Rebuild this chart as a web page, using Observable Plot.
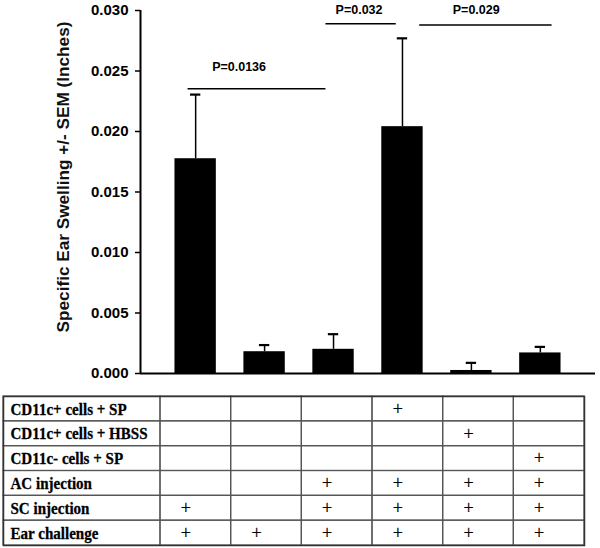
<!DOCTYPE html>
<html><head><meta charset="utf-8">
<script src="https://cdn.jsdelivr.net/npm/d3@7"></script>
<script src="https://cdn.jsdelivr.net/npm/@observablehq/plot@0.6"></script>
<style>
html,body{margin:0;padding:0;background:#fff;}
#chart svg{display:block}
</style></head><body><div id="chart"></div>
<script>
// ---- data ----
const groups = [1, 2, 3, 4, 5, 6];
const swelling = [0.01775, 0.0018, 0.0020, 0.0204, 0.00025, 0.0017];
const sem = [0.0053, 0.00055, 0.00125, 0.0073, 0.00063, 0.0005];
const yTicks = [0, 0.005, 0.010, 0.015, 0.020, 0.025, 0.030];
const yLabel = "Specific Ear Swelling +/- SEM (Inches)";

const pLabels = ["P=0.0136", "P=0.032", "P=0.029"];
const pFrom = [0.89, 2.89, 4.25];
const pTo = [2.89, 3.91, 6.17];
const pLineY = [0.02353, 0.0289, 0.0288];
const pTextX = [1.63, 3.37, 5.07];
const pTextY = [0.02531, 0.03006, 0.03006];

const rowLabels = ["CD11c+ cells + SP", "CD11c+ cells + HBSS", "CD11c- cells + SP", "AC injection", "SC injection", "Ear challenge"];
const rowMarks = [
  [0, 0, 0, 1, 0, 0],
  [0, 0, 0, 0, 1, 0],
  [0, 0, 0, 0, 0, 1],
  [0, 0, 1, 1, 1, 1],
  [1, 0, 1, 1, 1, 1],
  [1, 1, 1, 1, 1, 1]
];

// ---- derived tables ----
const bars = groups.map((g, i) => ({g, value: swelling[i], top: swelling[i] + sem[i]}));
const brackets = pLabels.map((label, i) => ({label, from: pFrom[i], to: pTo[i], y: pLineY[i], tx: pTextX[i], ty: pTextY[i]}));
const xDomain = [0.2, 6.8];
const yDomain = [0, 0.030];

const sans = "'Liberation Sans', Arial, sans-serif";
const serif = "'Liberation Serif', 'Times New Roman', serif";

const chart = Plot.plot({
  width: 600, height: 385,
  marginLeft: 140, marginRight: 5, marginTop: 10, marginBottom: 12,
  style: {fontFamily: sans, background: "#fff", color: "#000"},
  x: {domain: xDomain, axis: null},
  y: {domain: yDomain, axis: null},
  marks: [
    Plot.rectY(bars, {x1: d => d.g - 0.3, x2: d => d.g + 0.3, y1: 0, y2: "value", fill: "#000"}),
    Plot.ruleX(bars, {x: "g", y1: "value", y2: "top", stroke: "#000", strokeWidth: 1.5}),
    Plot.ruleY(bars, {y: "top", x1: d => d.g - 0.075, x2: d => d.g + 0.075, stroke: "#000", strokeWidth: 2.2}),
    Plot.ruleY(brackets, {y: "y", x1: "from", x2: "to", stroke: "#000", strokeWidth: 1.5}),
    Plot.text(brackets, {x: "tx", y: "ty", text: "label", fontSize: 12.5, fontWeight: "bold", fill: "#000"}),
    Plot.axisY({ticks: yTicks, tickFormat: d3.format(".3f"), tickSize: 5, tickPadding: 7, fontSize: 15, fontWeight: "bold", label: null, strokeWidth: 1.5}),
    Plot.ruleX([xDomain[0]], {y1: yDomain[0], y2: yDomain[1], stroke: "#000", strokeWidth: 2}),
    Plot.ruleY([0], {stroke: "#000", strokeWidth: 2}),
    Plot.text([yLabel], {frameAnchor: "left", textAnchor: "middle", rotate: -90, dx: -77, dy: -15, fontSize: 17.2, fontWeight: "bold", fill: "#111"})
  ]
});

// ---- table ----
const colW = 424 / 6, labelW = 157;
const xMin = 0.5 - labelW / colW;
const cells = [];
rowLabels.forEach((lab, r) => {
  cells.push({x1: xMin, x2: 0.5, r});
  groups.forEach(g => cells.push({x1: g - 0.5, x2: g + 0.5, r}));
});
const pluses = [];
rowMarks.forEach((row, r) => row.forEach((m, c) => { if (m) pluses.push({g: groups[c], r}); }));

const table = Plot.plot({
  width: 600, height: 163,
  marginLeft: 3, marginRight: 16, marginTop: 11, marginBottom: 3,
  x: {domain: [xMin, 6.5], axis: null},
  y: {domain: [0, 6], reverse: true, axis: null},
  style: {fontFamily: serif, background: "#fff", color: "#000"},
  marks: [
    Plot.rect(cells, {x1: "x1", x2: "x2", y1: "r", y2: d => d.r + 1, stroke: "#555", strokeWidth: 1.2, fill: "none"}),
    Plot.frame({stroke: "#333", strokeWidth: 1.5}),
    Plot.text(rowLabels, {x: xMin, y: (d, i) => i + 0.5, dx: 7, text: d => d, textAnchor: "start", fontSize: 17.5, fontWeight: "bold", fill: "#000", stroke: "#000", strokeWidth: 0.3}),
    Plot.text(pluses, {x: "g", y: d => d.r + 0.5, dx: -10, text: () => "+", fontSize: 18, fill: "#000", stroke: "#000", strokeWidth: 0.25})
  ]
});

// condense the serif row labels horizontally, as in the reference
d3.select(table).selectAll("text")
  .filter(function () { return rowLabels.includes(this.textContent); })
  .each(function () {
    const t = this.getAttribute("transform");
    if (t) {
      this.setAttribute("transform", t + " scale(0.86,1)");
    } else {
      const x = this.getAttribute("x") || 0;
      this.removeAttribute("x");
      this.setAttribute("transform", `translate(${x},0) scale(0.86,1)`);
    }
  });

document.getElementById("chart").append(chart, table);
</script>
</body></html>
